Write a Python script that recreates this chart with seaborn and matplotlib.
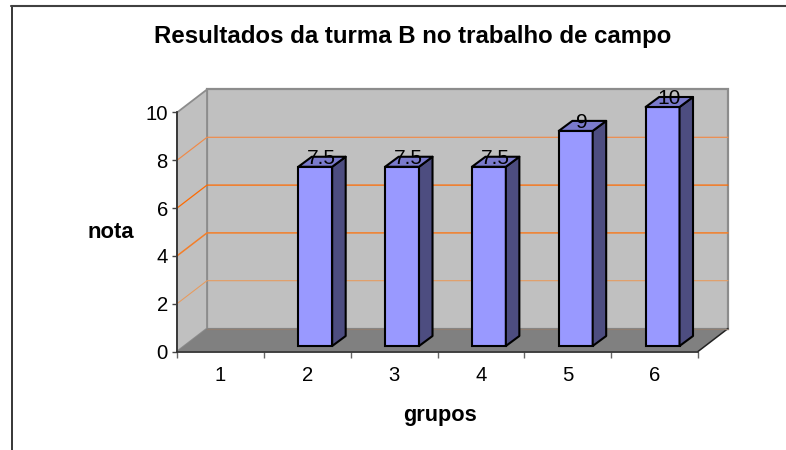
import matplotlib
matplotlib.use("Agg")
import matplotlib.pyplot as plt
from matplotlib.patches import Polygon
from matplotlib.lines import Line2D
from matplotlib.transforms import Affine2D
import numpy as np
import pandas as pd
import seaborn as sns

grupos = ["1", "2", "3", "4", "5", "6"]
notas = [np.nan, 7.5, 7.5, 7.5, 9, 10]
rotulos = ["", "7.5", "7.5", "7.5", "9", "10"]
y_ticks = [0, 2, 4, 6, 8, 10]
titulo = "Resultados da turma B no trabalho de campo"

W, H = 786, 450
sns.set_theme(style="white")
plt.rcParams["font.family"] = ["Liberation Sans", "DejaVu Sans"]

fig = plt.figure(figsize=(W / 100, H / 100), dpi=100, facecolor="white")
L, R, T, B = 177, 698, 112.5, 351.5
ax = fig.add_axes([L / W, 1 - B / H, (R - L) / W, (B - T) / H])
df = pd.DataFrame({"grupos": grupos, "nota": notas})
sns.barplot(data=df, x="grupos", y="nota", order=grupos, width=0.39,
            color="#9999FF", saturation=1, ax=ax, errorbar=None,
            edgecolor="black", linewidth=1.5, zorder=5)
bars = list(ax.patches)
ax.set_xlim(-0.5, 5.5)
ax.set_ylim(0, 10)
fig.canvas.draw()

# depth of the walls and of the bars, in pixels
DX, DY = 30, 23
x0, x1 = -0.5, 5.5
ident = Affine2D()


def skew(points):
    # points given as (x, y, depth 0..1) -> display coordinates
    out = []
    for x, y, d in points:
        px_, py_ = ax.transData.transform((x, y))
        out.append((px_ + DX * d, py_ + DY * d))
    return out


# back wall
ax.add_patch(Polygon(skew([(x0, 0, 1), (x1, 0, 1), (x1, 10, 1), (x0, 10, 1)]), closed=True,
                     fc="#C0C0C0", ec="#8C8C8C", lw=1.6, transform=ident, clip_on=False, zorder=1))
# left wall
ax.add_patch(Polygon(skew([(x0, 0, 0), (x0, 0, 1), (x0, 10, 1), (x0, 10, 0)]), closed=True,
                     fc="#C0C0C0", ec="#8C8C8C", lw=1.3, transform=ident, clip_on=False, zorder=1.2))
# floor
ax.add_patch(Polygon(skew([(x0, 0, 0), (x1, 0, 0), (x1, 0, 1), (x0, 0, 1)]), closed=True,
                     fc="#808080", ec="none", transform=ident, clip_on=False, zorder=1.3))
ax.add_line(Line2D(*zip(*skew([(x1, 0, 0), (x1, 0, 1)])), color="#222222", lw=1.1,
                   transform=ident, clip_on=False, zorder=1.4))
ax.add_line(Line2D(*zip(*skew([(x0, 0, 1), (x1, 0, 1)])), color="#8F7F73", lw=0.9,
                   transform=ident, clip_on=False, zorder=1.4))

# gridlines on both walls
grid_cols = {2: "#E89A5C", 4: "#F47E28", 6: "#FF6A00", 8: "#F08A48"}
grid_lws = {2: 0.75, 4: 1.1, 6: 0.9, 8: 0.85}
for v, c in grid_cols.items():
    ax.add_line(Line2D(*zip(*skew([(x0, v, 0), (x0, v, 1), (x1, v, 1)])), color=c, lw=grid_lws[v],
                       transform=ident, clip_on=False, zorder=1.5))

# 3D bars, built from the bars seaborn drew
DBX, DBY = 13.5, 10
OX, OY = 8, 5.5
for bar in bars:
    h = bar.get_height()
    if not np.isfinite(h) or h <= 0:
        continue
    x, w = bar.get_x(), bar.get_width()
    rot = rotulos[int(round(x + w / 2))]
    bar.set_transform(ax.transData + Affine2D().translate(OX, OY))
    bar.set_clip_on(False)
    (a, b0) = ax.transData.transform((x, 0))
    (c, t0) = ax.transData.transform((x + w, h))
    a, c = a + OX, c + OX
    b0, t0 = b0 + OY, t0 + OY
    ax.add_patch(Polygon([(c, b0), (c + DBX, b0 + DBY), (c + DBX, t0 + DBY), (c, t0)], closed=True,
                         fc="#4D4D80", ec="black", lw=1.5, joinstyle="round",
                         transform=ident, clip_on=False, zorder=5.1))
    ax.add_patch(Polygon([(a, t0), (c, t0), (c + DBX, t0 + DBY), (a + DBX, t0 + DBY)], closed=True,
                         fc="#7A7ACC", ec="black", lw=1.5, joinstyle="round",
                         transform=ident, clip_on=False, zorder=5.1))
    ax.text((a + c) / 2 + 6, t0 + 3, rot, transform=ident, ha="center", va="baseline",
            fontsize=15, color="black", zorder=7, clip_on=False)

# axes
sns.despine(ax=ax, top=True, right=True)
for s in ("left", "bottom"):
    ax.spines[s].set_color("#333333")
    ax.spines[s].set_linewidth(1.3)
    ax.spines[s].set_zorder(4)
ax.set_yticks(y_ticks)
ax.set_xticks(np.arange(-0.5, 6, 1))
ax.set_xticklabels([""] * 7)
ax.tick_params(axis="y", which="major", length=3.6, width=1.0, color="#444444",
               left=True, labelsize=14.6, labelcolor="black", pad=3)
ax.tick_params(axis="x", which="major", length=4.3, width=1.0, color="#666666", bottom=True)
ax.patch.set_alpha(0)
ax.set_xlabel("")
ax.set_ylabel("")
for i, g in enumerate(grupos):
    ax.text(i, -1.0, g, ha="center", va="center", fontsize=14.6, color="black", clip_on=False)


def px(x, y):
    return x / W, 1 - y / H


fig.text(*px(413, 36), titulo, ha="center", va="center", fontsize=17.3, fontweight="bold", color="black")
fig.text(*px(110.5, 232), "nota", ha="center", va="center", fontsize=15.8, fontweight="bold", color="black")
fig.text(*px(440, 415), "grupos", ha="center", va="center", fontsize=15.7, fontweight="bold", color="black")

# outer frame of the chart area
fig.add_artist(Line2D([11.5 / W, 11.5 / W], [0, 1 - 6 / H], color="black", lw=1.1))
fig.add_artist(Line2D([11 / W, 786 / W], [1 - 5.8 / H, 1 - 5.8 / H], color="#404040", lw=1.5))

fig.savefig("out.png", dpi=100, facecolor="white")
